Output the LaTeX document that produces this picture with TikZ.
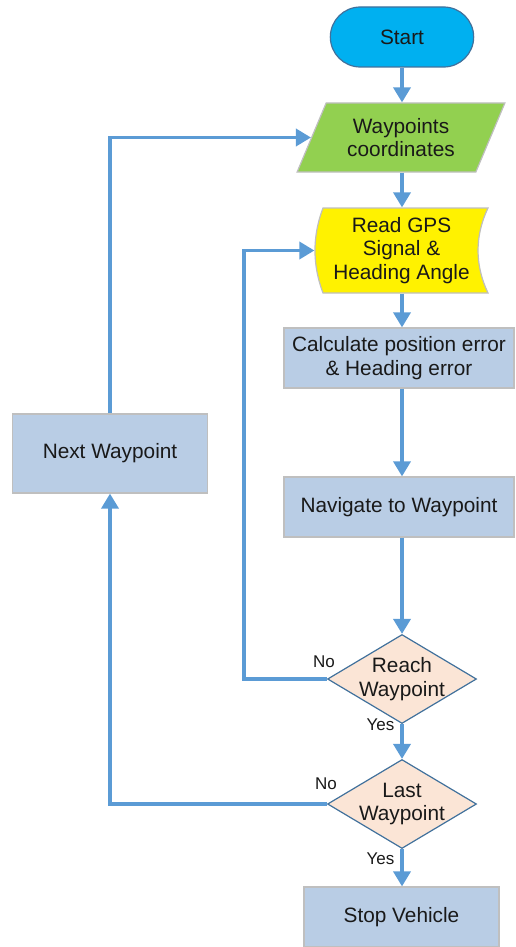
\documentclass[tikz,border=0pt]{standalone}
\usepackage{fontspec}
\setmainfont{Liberation Sans}
\usetikzlibrary{arrows.meta,shapes.geometric,shapes.misc}

\definecolor{flowblue}{HTML}{5B9BD5}
\definecolor{startfill}{HTML}{00B0F0}
\definecolor{darkedge}{HTML}{41719C}
\definecolor{iofill}{HTML}{92D050}
\definecolor{procfill}{HTML}{B9CDE5}
\definecolor{decfill}{HTML}{FBE5D6}
\definecolor{lightedge}{HTML}{BFBFBF}

\tikzset{
	every flow/.style={font=\fontsize{20.8}{23.5}\selectfont, align=center, text=black!90, line width=1.2pt},
	terminal/.style={every flow, rounded rectangle, fill=startfill, draw=darkedge, minimum width=150pt, minimum height=60pt},
	inout/.style={every flow, trapezium, trapezium left angle=64, trapezium right angle=116, trapezium stretches=true, fill=iofill, draw=lightedge, minimum width=208pt, minimum height=69pt},
	storedata/.style={line width=1.2pt, fill=yellow, draw=lightedge},
	process/.style={every flow, rectangle, fill=procfill, draw=lightedge, minimum height=60pt},
	decision/.style={every flow, diamond, fill=decfill, draw=darkedge, inner sep=-12pt, minimum width=149pt, minimum height=89pt},
	flowline/.style={draw=flowblue, line width=3.5pt, -{Triangle[length=15pt,width=17pt]}},
	answer/.style={font=\fontsize{17}{19}\selectfont, text=black!90, inner sep=0pt}
}

\begin{document}
\begin{tikzpicture}[x=1pt, y=-1pt]
	\useasboundingbox (0,0) rectangle (515,947);
	
	\node [terminal] (start) at (402,37) {Start};
	\node [inout] (wp) at (401,137.5) {Waypoints\\coordinates};
	
	\filldraw [storedata] (323,208) -- (488,208) .. controls (474.7,236) and (474.7,265) .. (488,293)
		-- (323,293) .. controls (312.3,265) and (312.3,236) .. (323,208) -- cycle;
	\node [every flow, minimum width=173pt, minimum height=85pt] (gps) at (401.5,250.5) {Read GPS\\Signal \&\\Heading Angle};
	
	\node [process, minimum width=230pt] (calc) at (399,358) {Calculate position error\\\& Heading error};
	\node [process, minimum width=230pt] (nav) at (399,507) {Navigate to Waypoint};
	\node [decision] (reach) at (402,679) {Reach\\Waypoint};
	\node [decision] (last) at (402,804) {Last\\Waypoint};
	\node [process, minimum width=195pt] (stop) at (401.5,917) {Stop Vehicle};
	\node [process, minimum width=195pt, minimum height=79pt] (next) at (110,453.5) {Next Waypoint};
	
	\foreach \a/\b in {start/wp, wp/gps, gps/calc, calc/nav, nav/reach}
	\draw [flowline] (start |- \a.south) -- (start |- \b.north);
	
	\draw [flowline] (reach.south) node [answer, anchor=east, xshift=-6pt, yshift=-1pt] {Yes} -- (last.north);
	\draw [flowline] (last.south) node [answer, anchor=east, xshift=-6pt, yshift=-10pt] {Yes} -- (last.south |- stop.north);
	
	\draw [flowline] (reach.west) node [answer, anchor=south, xshift=-3pt, yshift=10pt] {No} -- ++(-83,0) |- (gps.west);
	\draw [flowline] (last.west) node [answer, anchor=south, xshift=-1pt, yshift=13pt] {No} -| (next.south);
	\draw [flowline] (next.north) |- (wp.west);
	
\end{tikzpicture}
\end{document}
